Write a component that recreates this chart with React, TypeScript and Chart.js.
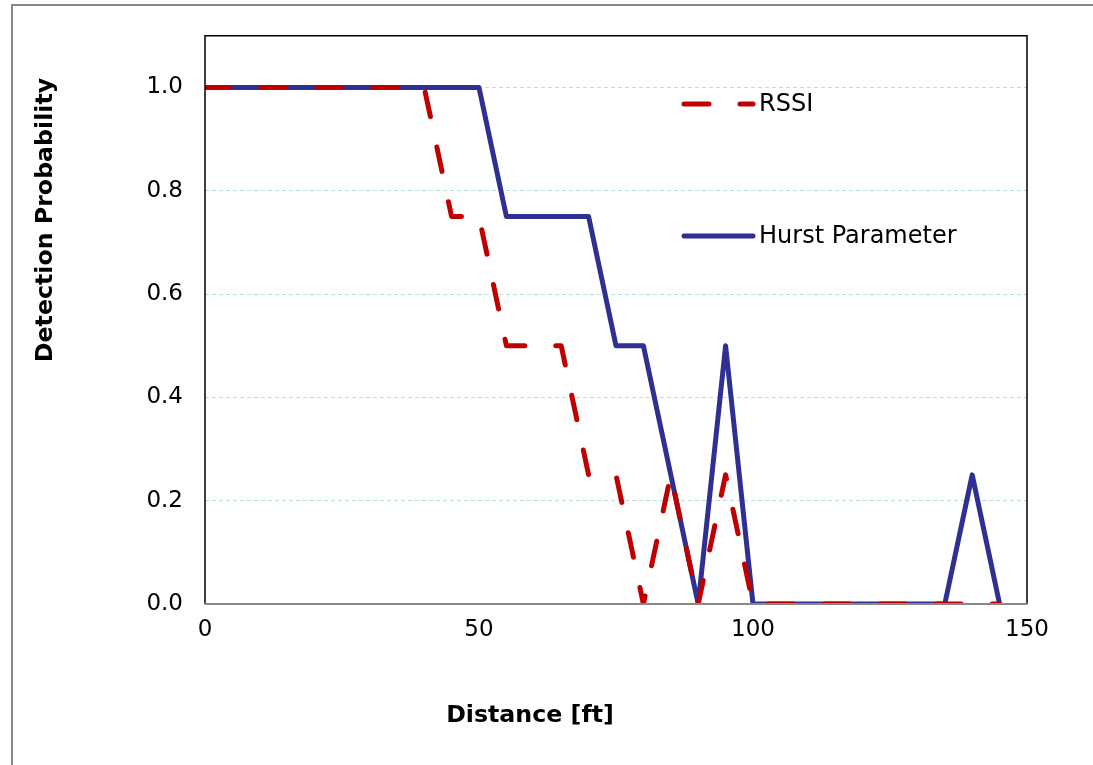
import React, { useEffect, useRef } from "react";
import { Chart, registerables } from "chart.js";

Chart.register(...registerables);

const rssiX = [0, 5, 10, 15, 20, 25, 30, 35, 40, 45, 50, 55, 60, 65, 70, 75, 80, 85, 90, 95, 100, 105, 110, 115, 120, 125, 130, 135, 140, 145];
const rssiY = [1, 1, 1, 1, 1, 1, 1, 1, 1, 0.75, 0.75, 0.5, 0.5, 0.5, 0.25, 0.25, 0, 0.25, 0, 0.25, 0, 0, 0, 0, 0, 0, 0, 0, 0, 0];
const hurstX = [0, 5, 10, 15, 20, 25, 30, 35, 40, 45, 50, 55, 60, 65, 70, 75, 80, 90, 95, 100, 105, 110, 115, 120, 125, 130, 135, 140, 145];
const hurstY = [1, 1, 1, 1, 1, 1, 1, 1, 1, 1, 1, 0.75, 0.75, 0.75, 0.75, 0.5, 0.5, 0, 0.5, 0, 0, 0, 0, 0, 0, 0, 0, 0.25, 0];
const yTicks = [0, 0.2, 0.4, 0.6, 0.8, 1.0];
const xTicks = [0, 50, 100, 150];
const seriesNames = ["RSSI", "Hurst Parameter"];
const xTitle = "Distance [ft]";
const yTitle = "Detection Probability";

const RED = "#C00000";
const BLUE = "#2E3192";
const FONT = "'DejaVu Sans', Verdana, sans-serif";

const overlay = {
  id: "overlay",
  afterDraw(chart: any) {
    const ctx = chart.ctx;
    const a = chart.chartArea;
    ctx.save();
    // plot frame
    ctx.lineWidth = 1.5;
    ctx.strokeStyle = "#000";
    ctx.beginPath();
    ctx.moveTo(a.left, a.bottom);
    ctx.lineTo(a.left, a.top);
    ctx.lineTo(a.right, a.top);
    ctx.lineTo(a.right, a.bottom);
    ctx.stroke();
    ctx.strokeStyle = "#888";
    ctx.lineWidth = 2;
    ctx.beginPath();
    ctx.moveTo(a.left, a.bottom);
    ctx.lineTo(a.right, a.bottom);
    ctx.stroke();

    // titles
    ctx.fillStyle = "#000";
    ctx.font = `bold 23.7px ${FONT}`;
    ctx.textAlign = "center";
    ctx.textBaseline = "middle";
    ctx.fillText(xTitle, 530, 716);
    ctx.save();
    ctx.translate(46, 220);
    ctx.rotate(-Math.PI / 2);
    ctx.fillText(yTitle, 0, 0);
    ctx.restore();

    // legend
    ctx.lineCap = "round";
    ctx.lineWidth = 5;
    ctx.strokeStyle = RED;
    ctx.setLineDash([25, 31]);
    ctx.beginPath();
    ctx.moveTo(684, 104);
    ctx.lineTo(753, 104);
    ctx.stroke();
    ctx.setLineDash([]);
    ctx.strokeStyle = BLUE;
    ctx.beginPath();
    ctx.moveTo(684, 236);
    ctx.lineTo(753, 236);
    ctx.stroke();
    ctx.font = `24px ${FONT}`;
    ctx.textAlign = "left";
    ctx.fillStyle = "#000";
    ctx.fillText(seriesNames[0], 759, 105);
    ctx.fillText(seriesNames[1], 759, 237);
    ctx.restore();
  },
};

export default function App() {
  const ref = useRef<HTMLCanvasElement>(null);
  useEffect(() => {
    document.body.style.margin = "0";
    const chart = new Chart(ref.current!, {
      type: "line",
      data: {
        datasets: [
          {
            label: seriesNames[0],
            data: rssiX.map((x, i) => ({ x, y: rssiY[i] })),
            borderColor: RED,
            borderWidth: 5,
            borderDash: [25, 31],
            borderCapStyle: "round",
            borderJoinStyle: "round",
            pointRadius: 0,
            fill: false,
            tension: 0,
          },
          {
            label: seriesNames[1],
            data: hurstX.map((x, i) => ({ x, y: hurstY[i] })),
            borderColor: BLUE,
            borderWidth: 5,
            borderCapStyle: "round",
            borderJoinStyle: "round",
            pointRadius: 0,
            fill: false,
            tension: 0,
          },
        ],
      },
      options: {
        animation: false,
        responsive: false,
        layout: { padding: { top: 34, right: 66, left: 0, bottom: 0 } },
        plugins: { legend: { display: false }, tooltip: { enabled: false } },
        scales: {
          x: {
            type: "linear",
            min: 0,
            max: 150,
            afterBuildTicks: (s: any) => {
              s.ticks = xTicks.map((v) => ({ value: v }));
            },
            afterFit: (s: any) => {
              s.height = 765 - 604;
            },
            grid: { display: false, drawTicks: false },
            border: { display: false },
            ticks: {
              font: { family: FONT, size: 23 },
              color: "#000",
              padding: 12,
              maxRotation: 0,
              callback: (v: any) => String(v),
            },
          },
          y: {
            min: 0,
            max: 1.1,
            afterBuildTicks: (s: any) => {
              s.ticks = yTicks.map((v) => ({ value: v }));
            },
            afterFit: (s: any) => {
              s.width = 205;
            },
            grid: {
              color: (c: any) => (c.tick && c.tick.value === 0 ? "rgba(0,0,0,0)" : "#B7DEE3"),
              lineWidth: 1,
              drawTicks: false,
            },
            border: { display: false, dash: [4, 3] },
            ticks: {
              font: { family: FONT, size: 23 },
              color: "#000",
              padding: 22,
              callback: (v: any) => Number(v).toFixed(1),
            },
          },
        },
      } as any,
      plugins: [overlay],
    });
    return () => chart.destroy();
  }, []);
  return (
    <div style={{ position: "relative", width: 1093, height: 765, background: "#fff", overflow: "hidden" }}>
      <div
        style={{
          position: "absolute",
          left: 11,
          top: 4,
          width: 1200,
          height: 900,
          border: "2px solid #888",
          boxSizing: "border-box",
        }}
      />
      <canvas ref={ref} width={1093} height={765} style={{ position: "absolute", left: 0, top: 0, display: "block" }} />
    </div>
  );
}
